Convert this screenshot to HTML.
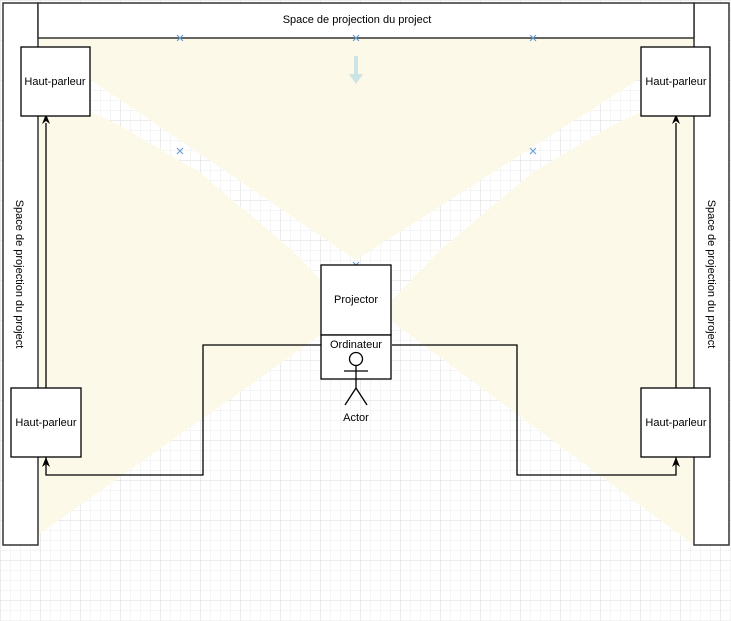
<!DOCTYPE html>
<html><head><style>
html,body{margin:0;padding:0;background:#fff;}
svg{display:block;font-family:"Liberation Sans",sans-serif;}
</style></head><body>
<svg width="731" height="621" viewBox="0 0 731 621" xmlns="http://www.w3.org/2000/svg">
<defs>
<pattern id="g" width="10" height="10" patternUnits="userSpaceOnUse" x="1" y="1">
<path d="M10 0V10M0 10H10" stroke="#ebebeb" stroke-width="1" fill="none"/>
</pattern>
<pattern id="G" width="40" height="40" patternUnits="userSpaceOnUse" x="1" y="1">
<path d="M40 0V40M0 40H40" stroke="#dadada" stroke-width="1" fill="none"/>
</pattern>
</defs>
<rect width="731" height="621" fill="url(#g)"/>
<rect width="731" height="621" fill="url(#G)"/>
<g fill="#fdf9e8">
<polygon points="38,38 694,38 694,44 356,260 38,44"/>
<polygon points="38,88 119,125 199,172 292,250 340,300 356,310 38,535"/>
<polygon points="694,88 613,125 533,172 440,250 392,300 376,310 694,545"/>
</g>
<g stroke="#333" stroke-width="1.5" fill="#fff">
<rect x="3" y="3" width="35" height="542"/>
<rect x="694" y="3" width="35" height="542"/>
<rect x="38" y="3" width="656" height="35"/>
</g>
<text x="357" y="23" font-size="11" text-anchor="middle">Space de projection du project</text>
<text transform="translate(16,274) rotate(90)" font-size="11" text-anchor="middle">Space de projection du project</text>
<text transform="translate(708,274) rotate(90)" font-size="11" text-anchor="middle">Space de projection du project</text>
<path d="M356 56V78" stroke="#cde4e4" stroke-width="4"/>
<polygon points="349,74 363,74 356,84" fill="#cde4e4"/>
<g stroke="#6aa0d8" stroke-width="1.2">
<path d="M177 35l6 6M183 35l-6 6M353 35l6 6M359 35l-6 6M530 35l6 6M536 35l-6 6M177 148l6 6M183 148l-6 6M530 148l6 6M536 148l-6 6M353 262l6 6M359 262l-6 6"/>
</g>
<g stroke="#000" stroke-width="1.3" fill="none">
<path d="M321 345H203V475H46V123"/>
<path d="M392 345H517V475H676V123"/>
</g>
<g fill="#000">
<polygon points="46,114 42,124 46,121 50,124"/>
<polygon points="676,114 672,124 676,121 680,124"/>
<polygon points="46,457 42,467 46,464 50,467"/>
<polygon points="676,457 672,467 676,464 680,467"/>
</g>
<g stroke="#000" stroke-width="1.3" fill="#fff">
<rect x="21" y="47" width="69" height="69"/>
<rect x="641" y="47" width="69" height="69"/>
<rect x="11" y="388" width="70" height="69"/>
<rect x="641" y="388" width="69" height="69"/>
<rect x="321" y="265" width="70" height="70"/>
<rect x="321" y="335" width="70" height="44"/>
</g>
<g font-size="11" text-anchor="middle">
<text x="55" y="85">Haut-parleur</text>
<text x="676" y="85">Haut-parleur</text>
<text x="46" y="426">Haut-parleur</text>
<text x="676" y="426">Haut-parleur</text>
<text x="356" y="303">Projector</text>
<text x="356" y="348">Ordinateur</text>
<text x="356" y="421">Actor</text>
</g>
<g stroke="#000" stroke-width="1.3" fill="none">
<circle cx="356" cy="359" r="6.5"/>
<path d="M356 366V388M344 371H368M345 405L356 388L367 405"/>
</g>
</svg>
</body></html>
